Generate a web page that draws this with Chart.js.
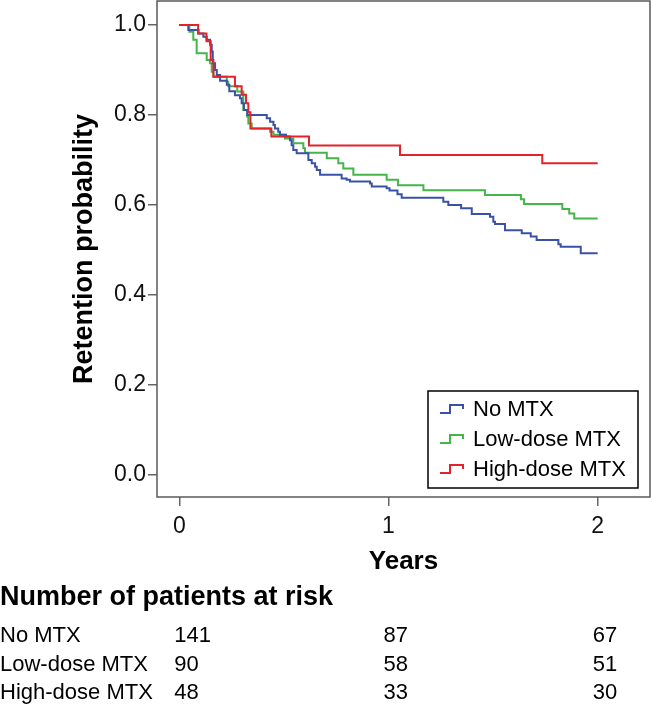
<!DOCTYPE html>
<html>
<head>
<meta charset="utf-8">
<script src="https://cdn.jsdelivr.net/npm/chart.js@4.4.1/dist/chart.umd.min.js"></script>
<style>
  html, body { margin: 0; padding: 0; background: #fff; }
</style>
</head>
<body>
<canvas id="km" width="652" height="705"></canvas>
<script>
// Kaplan-Meier retention curves (years, probability after each drop)
const groups = ['No MTX', 'Low-dose MTX', 'High-dose MTX'];
const colors = ['#3A52A6', '#45B449', '#E2232A'];

const noMtxYears = [0, 0.043, 0.092, 0.115, 0.131, 0.147, 0.155, 0.160, 0.171, 0.179, 0.195, 0.227, 0.239, 0.266, 0.29, 0.298, 0.309, 0.325,
  0.418, 0.434, 0.45, 0.457, 0.473, 0.481, 0.51, 0.529, 0.537, 0.545, 0.561, 0.617, 0.633, 0.649, 0.657, 0.673, 0.776, 0.80, 0.816,
  0.912, 0.920, 0.991, 1.005, 1.043, 1.063, 1.262, 1.286, 1.347, 1.398, 1.485, 1.501, 1.509, 1.557, 1.637, 1.680, 1.708, 1.812, 1.823, 1.919, 2.0];
const noMtxSurv = [1, 0.989, 0.981, 0.974, 0.967, 0.956, 0.941, 0.915, 0.90, 0.889, 0.876, 0.867, 0.853, 0.844, 0.837, 0.826, 0.811, 0.80,
  0.793, 0.785, 0.778, 0.770, 0.763, 0.756, 0.752, 0.744, 0.733, 0.722, 0.715, 0.70, 0.693, 0.685, 0.678, 0.667, 0.659, 0.656, 0.652,
  0.648, 0.641, 0.637, 0.632, 0.624, 0.616, 0.607, 0.60, 0.593, 0.58, 0.574, 0.563, 0.558, 0.544, 0.537, 0.530, 0.522, 0.513, 0.507, 0.493, 0.493];

const lowDoseYears = [0, 0.048, 0.067, 0.083, 0.131, 0.147, 0.155, 0.163, 0.227, 0.234, 0.277, 0.306, 0.325, 0.33, 0.346, 0.434, 0.45,
  0.505, 0.545, 0.593, 0.601, 0.705, 0.760, 0.784, 0.832, 0.991, 1.045, 1.167, 1.461, 1.633, 1.648, 1.831, 1.864, 1.888, 2.0];
const lowDoseSurv = [1, 0.985, 0.967, 0.937, 0.922, 0.915, 0.896, 0.885, 0.874, 0.864, 0.852, 0.811, 0.796, 0.781, 0.770, 0.763, 0.756,
  0.748, 0.737, 0.726, 0.716, 0.704, 0.693, 0.681, 0.667, 0.656, 0.644, 0.633, 0.622, 0.613, 0.602, 0.591, 0.581, 0.570, 0.570];

const highDoseYears = [0, 0.09, 0.13, 0.15, 0.163, 0.266, 0.298, 0.319, 0.33, 0.34, 0.44, 0.62, 1.055, 1.735, 2.0];
const highDoseSurv = [1, 0.981, 0.964, 0.922, 0.885, 0.864, 0.845, 0.826, 0.806, 0.77, 0.752, 0.732, 0.711, 0.693, 0.693];

const xTicks = [0, 1, 2];
const yTicks = [0, 0.2, 0.4, 0.6, 0.8, 1.0];

// number at risk table
const riskYears = [0, 1, 2];
const atRiskNoMtx = [141, 87, 67];
const atRiskLowDose = [90, 58, 51];
const atRiskHighDose = [48, 33, 30];

const FONT = "'Liberation Sans', Arial, sans-serif";
Chart.defaults.font.family = FONT;
Chart.defaults.color = '#000';

const toPoints = (xs, ys) => xs.map((x, i) => ({ x, y: ys[i] }));

const frameAndTable = {
  id: 'frameAndTable',
  afterDraw(chart) {
    const { ctx, chartArea: a, scales } = chart;
    ctx.save();
    // plot box
    ctx.strokeStyle = '#5a5a5a';
    ctx.lineWidth = 1.5;
    ctx.strokeRect(a.left, a.top, a.right - a.left, a.bottom - a.top);

    // legend inside the plot
    const lx = 428, ly = 391, lw = 210, lh = 97;
    ctx.fillStyle = '#fff';
    ctx.fillRect(lx, ly, lw, lh);
    ctx.strokeStyle = '#000';
    ctx.lineWidth = 1.5;
    ctx.strokeRect(lx, ly, lw, lh);
    ctx.font = '22px ' + FONT;
    ctx.textBaseline = 'middle';
    chart.data.datasets.forEach((ds, i) => {
      const cy = ly + 18 + i * 30;
      ctx.strokeStyle = ds.borderColor;
      ctx.lineWidth = 2;
      ctx.beginPath();
      ctx.moveTo(440, cy + 4);
      ctx.lineTo(450, cy + 4);
      ctx.lineTo(450, cy - 4);
      ctx.lineTo(463, cy - 4);
      ctx.lineTo(463, cy);
      ctx.stroke();
      ctx.fillStyle = '#000';
      ctx.textAlign = 'left';
      ctx.fillText(ds.label, 473, cy + 1);
    });

    // at-risk table
    ctx.fillStyle = '#000';
    ctx.textAlign = 'left';
    ctx.font = 'bold 27px ' + FONT;
    ctx.fillText('Number of patients at risk', 0, 598);
    ctx.font = '22px ' + FONT;
    const rows = [atRiskNoMtx, atRiskLowDose, atRiskHighDose];
    rows.forEach((row, r) => {
      const y = 636 + r * 28.5;
      ctx.fillText(groups[r], 0, y);
      row.forEach((n, j) => {
        ctx.fillText(String(n), scales.x.getPixelForValue(riskYears[j]) - 5, y);
      });
    });
    ctx.restore();
  }
};

new Chart(document.getElementById('km').getContext('2d'), {
  type: 'line',
  data: {
    datasets: [
      { label: groups[0], data: toPoints(noMtxYears, noMtxSurv), borderColor: colors[0], order: 1 },
      { label: groups[1], data: toPoints(lowDoseYears, lowDoseSurv), borderColor: colors[1], order: 2 },
      { label: groups[2], data: toPoints(highDoseYears, highDoseSurv), borderColor: colors[2], order: 0 }
    ]
  },
  options: {
    responsive: false,
    animation: false,
    layout: { padding: { top: 1, right: 2, left: 0, bottom: 0 } },
    elements: {
      line: { stepped: true, borderWidth: 2, fill: false, tension: 0, borderJoinStyle: 'miter' },
      point: { radius: 0 }
    },
    plugins: { legend: { display: false }, tooltip: { enabled: false } },
    scales: {
      x: {
        type: 'linear',
        min: -0.1066,
        max: 2.25,
        afterFit: s => { s.height = 208; s.paddingLeft = 0; s.paddingRight = 0; },
        afterBuildTicks: s => { s.ticks = xTicks.map(v => ({ value: v })); },
        grid: { drawOnChartArea: false, drawTicks: true, tickLength: 9, color: '#666', lineWidth: 1.5 },
        border: { display: false },
        ticks: { font: { size: 23 }, color: '#111', padding: 7, maxRotation: 0, callback: v => String(v) },
        title: { display: true, text: 'Years', font: { size: 26, weight: 'bold' }, color: '#000', padding: { top: 0, bottom: 128 } }
      },
      y: {
        min: -0.0489,
        max: 1.0533,
        afterFit: s => { s.width = 157; s.paddingTop = 0; s.paddingBottom = 0; },
        afterBuildTicks: s => { s.ticks = yTicks.map(v => ({ value: v })); },
        grid: { drawOnChartArea: false, drawTicks: true, tickLength: 9, color: '#666', lineWidth: 1.5 },
        border: { display: false },
        ticks: { font: { size: 23 }, color: '#111', padding: 2, callback: v => v.toFixed(1) },
        title: { display: true, text: 'Retention probability', font: { size: 27, weight: 'bold' }, color: '#000', padding: { top: 68, bottom: 0 } }
      }
    }
  },
  plugins: [frameAndTable]
});
</script>
</body>
</html>
